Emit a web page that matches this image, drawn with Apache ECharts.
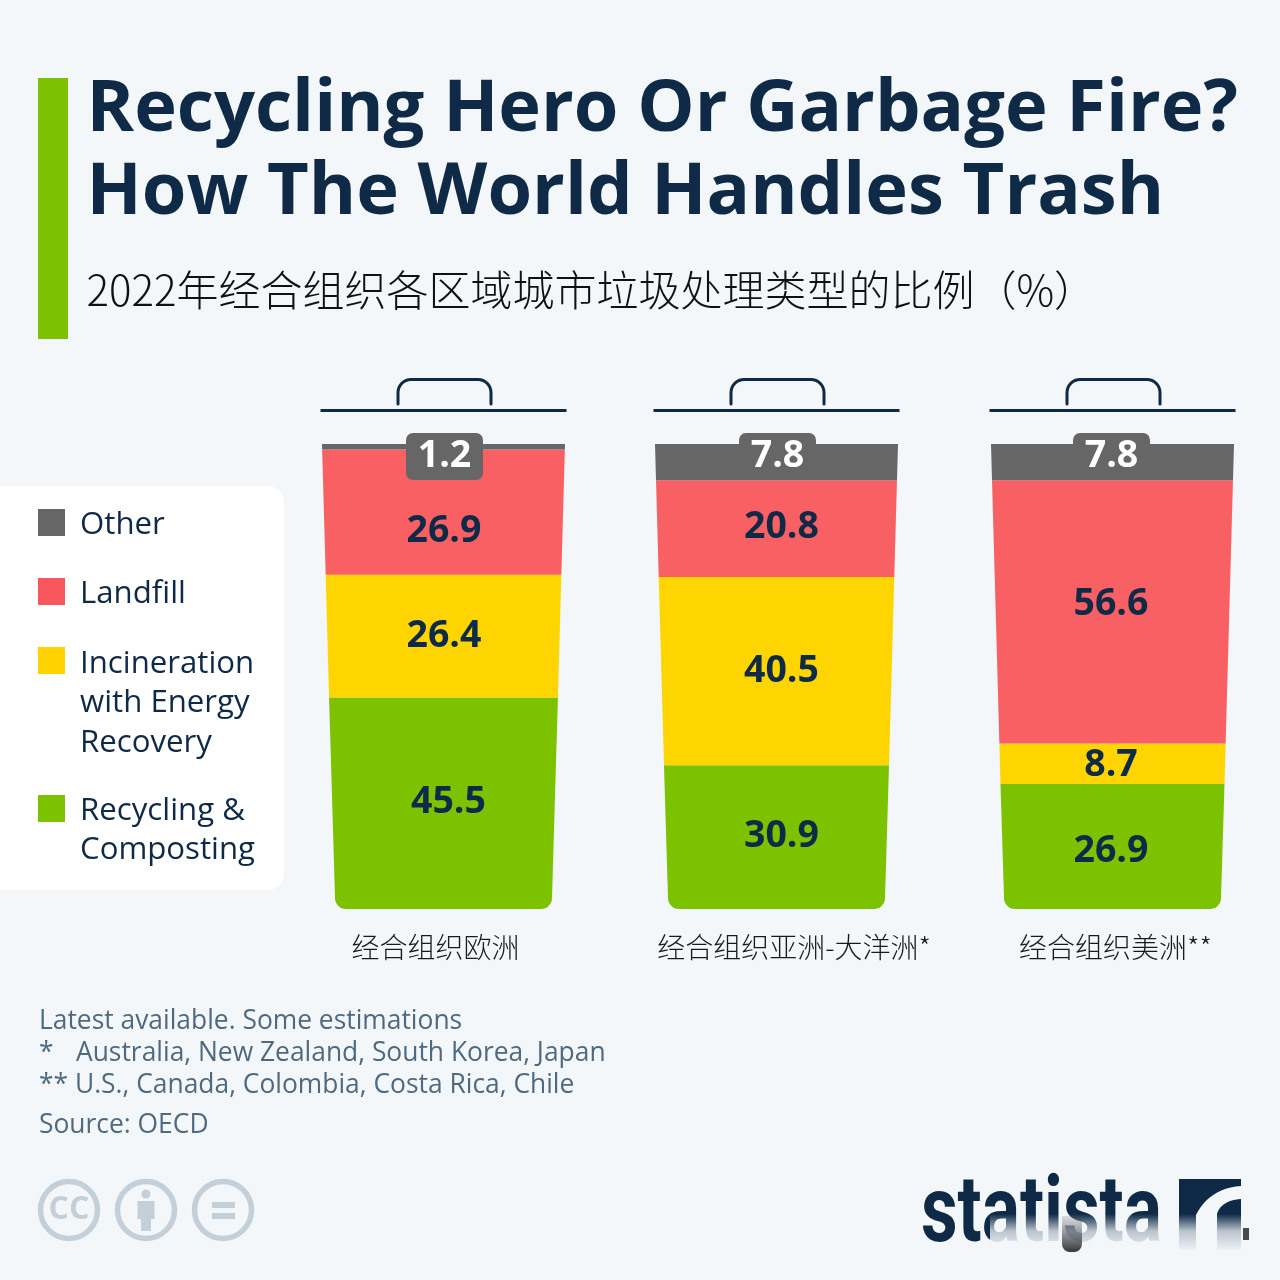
<!DOCTYPE html>
<html lang="en">
  <head>
    <meta charset="UTF-8" />
    <title>Recycling Hero Or Garbage Fire?</title>
    <script src="https://cdn.jsdelivr.net/npm/echarts@6/dist/echarts.min.js"></script>
    <style>
      html, body { margin: 0; padding: 0; background: #f4f7fa; }
      #main { width: 1280px; height: 1280px; }
    </style>
  </head>
  <body>
    <div id="main"></div>
    <script>
      // data
      const regions = ['经合组织欧洲', '经合组织亚洲-大洋洲*', '经合组织美洲**'];
      const otherShare = [1.2, 7.8, 7.8];
      const landfillShare = [26.9, 20.8, 56.6];
      const incinerationShare = [26.4, 40.5, 8.7];
      const recyclingShare = [45.5, 30.9, 26.9];
      const seriesNames = ['Other', 'Landfill', 'Incineration\nwith Energy\nRecovery', 'Recycling &\nComposting'];
      const seriesShares = [otherShare, landfillShare, incinerationShare, recyclingShare];

      const footNotes = [
        ['Latest available. Some estimations', 39, 1021],
        ['*', 39, 1053],
        ['Australia, New Zealand, South Korea, Japan', 76, 1053],
        ['** U.S., Canada, Colombia, Costa Rica, Chile', 39, 1085],
        ['Source: OECD', 39, 1125]
      ];

      // styles and hand placed things
      const navy = '#0f2a47';
      const bg = '#f4f7fa';
      const colors = ['#666666', '#f96064', '#ffd500', '#7cc200'];
      const legendColors = ['#666666', '#f9575e', '#ffd200', '#7cc200'];
      const legendY = [509, 578, 647, 795];
      const legendTextY = [525, 594, 664, 811];
      const lidCenters = [443.5, 776.5, 1112.5];
      const binNudge = [0, -1.5, 0];
      const halfTop = 121.5;
      const halfBottom = 108.5;
      const cornerR = 11;
      // label offset from the middle of each segment, [dx, dy] by series then region
      const labelShift = [
        [[1, 9.7], [1, -5.7], [-1, -5.7]],
        [[0.5, 19], [5, -1.7], [-1.5, -8]],
        [[0.5, 0], [5, 0], [-1.5, 2]],
        [[5, -1], [5, -1], [-1.5, 4.5]]
      ];

      function halfWidth(cum) {
        return halfBottom + (halfTop - halfBottom) * cum / 100;
      }

      function segmentItem(s) {
        return function (params, api) {
          const cat = api.value(0);
          const from = api.value(1);
          const to = api.value(2);
          const cx = api.coord([cat, 0])[0] + binNudge[cat];
          const yBottom = api.coord([cat, from])[1];
          const yTop = api.coord([cat, to])[1];
          const hwT = halfWidth(to);
          const hwB = halfWidth(from);
          let pts = [[cx - hwT, yTop], [cx + hwT, yTop]];
          if (from <= 0) {
            // rounded bottom corners of the bin
            const steps = 8;
            for (let k = 0; k <= steps; k++) {
              const a = (k / steps) * Math.PI / 2;
              pts.push([cx + hwB - cornerR + cornerR * Math.cos(a), yBottom - cornerR + cornerR * Math.sin(a)]);
            }
            for (let k = steps; k >= 0; k--) {
              const a = (k / steps) * Math.PI / 2;
              pts.push([cx - hwB + cornerR - cornerR * Math.cos(a), yBottom - cornerR + cornerR * Math.sin(a)]);
            }
          } else {
            pts.push([cx + hwB, yBottom], [cx - hwB, yBottom]);
          }
          const shift = labelShift[s][cat];
          const isOther = s === 0;
          const textStyle = {
            text: api.value(3).toFixed(1),
            fontFamily: '"Open Sans"',
            fontWeight: 'bold',
            fontSize: 37.5,
            fill: isOther ? '#ffffff' : navy,
            align: 'center',
            verticalAlign: 'middle'
          };
          if (isOther) {
            textStyle.backgroundColor = colors[0];
            textStyle.borderRadius = 7;
            textStyle.padding = [0, 12];
            textStyle.lineHeight = 47;
            textStyle.width = 53;
          }
          return {
            type: 'group',
            children: [
              { type: 'polygon', shape: { points: pts }, style: { fill: colors[s] } },
              { type: 'text', x: cx + shift[0], y: (yTop + yBottom) / 2 + shift[1], style: textStyle, z2: 5 }
            ]
          };
        };
      }

      // stack the shares by hand, recycling sits at the bottom of the bin
      let running = regions.map(() => 0);
      let series = [];
      for (let s = seriesShares.length - 1; s >= 0; s--) {
        const rows = regions.map((r, i) => {
          const row = [i, running[i], running[i] + seriesShares[s][i], seriesShares[s][i]];
          running[i] += seriesShares[s][i];
          return row;
        });
        series.push({
          name: seriesNames[s],
          type: 'custom',
          silent: true,
          z: 10 - s,
          renderItem: segmentItem(s),
          encode: { x: 0, y: [1, 2] },
          data: rows
        });
      }

      let graphics = [
        { type: 'rect', shape: { x: 38, y: 78, width: 30, height: 261 }, style: { fill: colors[3] } },
        { type: 'rect', shape: { x: -20, y: 486, width: 304, height: 404, r: 16 }, style: { fill: '#ffffff' } }
      ];

      // legend, squares line up with the first text line so it is built here
      seriesNames.forEach((name, i) => {
        graphics.push({ type: 'rect', shape: { x: 38, y: legendY[i], width: 27, height: 27 }, style: { fill: legendColors[i] } });
        name.split('\n').forEach((line, k) => {
          graphics.push({
            type: 'text', x: 80, y: legendTextY[i] + k * 39.5,
            style: { text: line, fontFamily: '"Open Sans"', fontSize: 31.2, fill: navy, verticalAlign: 'middle' }
          });
        });
      });

      function arcPts(cx, cy, r, a0, a1) {
        let out = [];
        for (let k = 0; k <= 8; k++) {
          const a = (a0 + (a1 - a0) * k / 8) * Math.PI / 180;
          out.push([cx + r * Math.cos(a), cy + r * Math.sin(a)]);
        }
        return out;
      }

      function cubicPts(p0, p1, p2, p3) {
        let out = [];
        for (let k = 0; k <= 12; k++) {
          const t = k / 12, u = 1 - t;
          out.push([
            u * u * u * p0[0] + 3 * u * u * t * p1[0] + 3 * u * t * t * p2[0] + t * t * t * p3[0],
            u * u * u * p0[1] + 3 * u * u * t * p1[1] + 3 * u * t * t * p2[1] + t * t * t * p3[1]
          ]);
        }
        return out;
      }

      // bin lids
      lidCenters.forEach((cx) => {
        graphics.push({
          type: 'line', shape: { x1: cx - 123, y1: 410.5, x2: cx + 123, y2: 410.5 },
          style: { stroke: navy, lineWidth: 3 }
        });
        const l = cx - 45.5, r = cx + 47.5;
        const handle = [[l, 404]]
          .concat(arcPts(l + 13, 392.5, 13, 180, 270))
          .concat(arcPts(r - 13, 392.5, 13, 270, 360))
          .concat([[r, 404]]);
        graphics.push({
          type: 'polyline', shape: { points: handle },
          style: { fill: 'none', stroke: navy, lineWidth: 3, lineCap: 'round' }
        });
      });

      footNotes.forEach((f) => {
        graphics.push({
          type: 'text', x: f[1], y: f[2],
          style: { text: f[0], fontFamily: '"Open Sans"', fontSize: 26.4, fill: '#4e6a80', verticalAlign: 'middle' }
        });
      });

      // cc badges
      const ccColor = '#c3d0d9';
      [69, 146, 223].forEach((cx) => {
        graphics.push({
          type: 'circle', shape: { cx: cx, cy: 1210, r: 28.5 },
          style: { fill: 'none', stroke: ccColor, lineWidth: 5.5 }
        });
      });
      graphics.push(
        { type: 'text', x: 69, y: 1210, style: { text: 'CC', fontFamily: '"Open Sans"', fontWeight: 'bold', fontSize: 32, fill: ccColor, align: 'center', verticalAlign: 'middle' } },
        { type: 'circle', shape: { cx: 146, cy: 1194, r: 4.5 }, style: { fill: ccColor } },
        { type: 'rect', shape: { x: 137.5, y: 1201, width: 17, height: 18 }, style: { fill: ccColor } },
        { type: 'rect', shape: { x: 141, y: 1215, width: 10, height: 16 }, style: { fill: ccColor } },
        { type: 'rect', shape: { x: 212, y: 1202, width: 23, height: 6 }, style: { fill: ccColor } },
        { type: 'rect', shape: { x: 212, y: 1213, width: 23, height: 6 }, style: { fill: ccColor } }
      );

      // logo, the lower part is smeared in the source picture
      const markA = [[1179, 1179], [1241, 1179], [1241, 1186]]
        .concat(cubicPts([1241, 1186], [1219, 1187], [1204, 1199], [1196, 1215]))
        .concat([[1196, 1250], [1179, 1250]]);
      const markB = cubicPts([1217, 1214], [1220, 1204], [1229, 1200], [1241, 1199])
        .concat([[1241, 1250], [1217, 1250]]);
      graphics.push(
        { type: 'text', x: 921, y: 1218, scaleX: 0.775, style: { text: 'statista', fontFamily: 'Roboto', fontWeight: 'bold', fontSize: 92, fill: navy, verticalAlign: 'middle' }, z: 5 },
        { type: 'polygon', shape: { points: markA }, style: { fill: navy }, z: 5 },
        { type: 'polygon', shape: { points: markB }, style: { fill: navy }, z: 5 },
        {
          type: 'rect', shape: { x: 990, y: 1214, width: 262, height: 38 },
          style: { fill: new echarts.graphic.LinearGradient(0, 0, 0, 1, [
            { offset: 0, color: 'rgba(244,247,250,0)' },
            { offset: 0.45, color: 'rgba(244,247,250,0.75)' },
            { offset: 1, color: 'rgba(244,247,250,1)' }
          ]) }, z: 6
        },
        {
          type: 'rect', shape: { x: 1062, y: 1216, width: 20, height: 36, r: [0, 0, 8, 8] },
          style: { fill: new echarts.graphic.LinearGradient(0, 0, 0, 1, [
            { offset: 0, color: 'rgba(60,70,80,0.15)' },
            { offset: 1, color: 'rgba(20,20,20,0.85)' }
          ]) }, z: 7
        },
        { type: 'rect', shape: { x: 1243, y: 1228, width: 6, height: 12 }, style: { fill: 'rgba(30,30,30,0.8)' }, z: 7 }
      );

      var myChart = echarts.init(document.getElementById('main'), null, { renderer: 'canvas' });
      var option = {
        backgroundColor: bg,
        animation: false,
        title: {
          text: 'Recycling Hero Or Garbage Fire?\nHow The World Handles Trash',
          subtext: '2022年经合组织各区域城市垃圾处理类型的比例（%）',
          left: 81.5,
          top: 64,
          itemGap: 27,
          textStyle: { fontFamily: '"Open Sans"', fontWeight: 'bold', fontSize: 72.2, lineHeight: 83, color: navy },
          subtextStyle: { fontFamily: '"Noto Sans CJK SC"', fontWeight: 300, fontSize: 42, lineHeight: 56, color: '#111111' }
        },
        grid: { left: 276.25, top: 444, width: 1003.5, height: 465 },
        xAxis: {
          type: 'category',
          data: [
            { value: regions[0], textStyle: { padding: [0, 16, 0, 0] } },
            { value: regions[1], textStyle: { padding: [0, 0, 0, 32] } },
            { value: regions[2], textStyle: { padding: [0, 0, 0, 6] } }
          ],
          axisLine: { show: false },
          axisTick: { show: false },
          axisLabel: { margin: 24, fontFamily: '"Noto Sans CJK SC"', fontWeight: 300, fontSize: 28, color: '#1a1a1a', interval: 0 }
        },
        yAxis: { type: 'value', min: 0, max: 100, show: false },
        graphic: { elements: graphics },
        series: series
      };
      myChart.setOption(option);
    </script>
  </body>
</html>
